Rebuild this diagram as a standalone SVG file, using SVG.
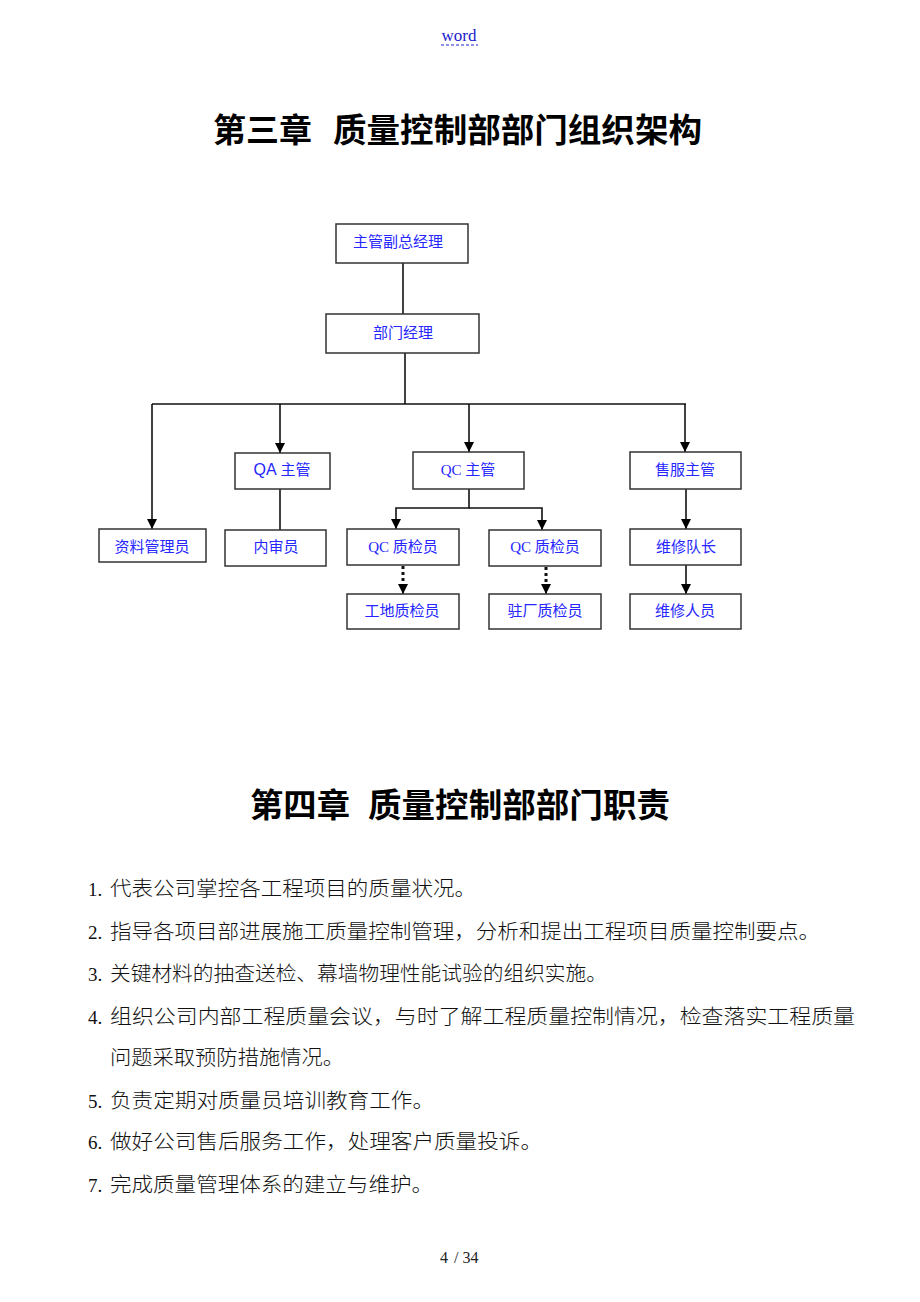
<svg xmlns="http://www.w3.org/2000/svg" width="920" height="1302" viewBox="0 0 920 1302">
<style>
.box{fill:#fff;stroke:#333;stroke-width:1.5}
.lbl{font-family:"Liberation Serif","Noto Sans CJK SC",serif;font-size:15px;fill:#2626ff;text-anchor:middle}
.sans{font-family:"Liberation Sans",sans-serif}
.ln{fill:none;stroke:#111;stroke-width:1.6}
.dot{fill:none;stroke:#111;stroke-width:3;stroke-dasharray:3 3}
.title{font-family:"Noto Sans CJK SC",sans-serif;font-size:33px;font-weight:bold;fill:#000}
.item{font-family:"Noto Sans CJK SC",sans-serif;font-size:20px;font-weight:300;fill:#111}
.num{font-family:"Liberation Serif",serif;font-size:19px;fill:#111}
</style>
<defs>
<marker id="ah" markerUnits="userSpaceOnUse" markerWidth="10" markerHeight="10" refX="10" refY="5" orient="auto" viewBox="0 0 10 10">
<path d="M0,0 L10,5 L0,10 z" fill="#000"/>
</marker>
</defs>
<rect width="920" height="1302" fill="#fff"/>

<g id="header">
<text x="459" y="41" font-family="Liberation Serif,serif" font-size="17" fill="#2020cc" text-anchor="middle">word</text>
<line x1="441" y1="45" x2="478" y2="45" stroke="#2020cc" stroke-width="1" stroke-dasharray="3 2"/>
</g>

<g id="title3">
<text class="title" x="213" y="142" textLength="99" lengthAdjust="spacingAndGlyphs">第三章</text>
<text class="title" x="333" y="142" textLength="369" lengthAdjust="spacingAndGlyphs">质量控制部部门组织架构</text>
</g>

<g id="connectors">
<line class="ln" x1="403" y1="263" x2="403" y2="314"/>
<line class="ln" x1="405" y1="353" x2="405" y2="404"/>
<line class="ln" x1="152" y1="404" x2="686" y2="404"/>
<line class="ln" x1="152" y1="404" x2="152" y2="529" marker-end="url(#ah)"/>
<line class="ln" x1="280" y1="404" x2="280" y2="453" marker-end="url(#ah)"/>
<line class="ln" x1="469" y1="404" x2="469" y2="452" marker-end="url(#ah)"/>
<line class="ln" x1="685" y1="404" x2="685" y2="452" marker-end="url(#ah)"/>
<line class="ln" x1="280" y1="489" x2="280" y2="530"/>
<polyline class="ln" points="469,489 469,508 396,508 396,529" marker-end="url(#ah)"/>
<polyline class="ln" points="469,508 542,508 542,530" marker-end="url(#ah)"/>
<line class="ln" x1="686" y1="489" x2="686" y2="529" marker-end="url(#ah)"/>
<line class="ln" x1="686" y1="565" x2="686" y2="594" marker-end="url(#ah)"/>
<line class="dot" x1="403" y1="566" x2="403" y2="586"/>
<line class="ln" x1="403" y1="584" x2="403" y2="594" marker-end="url(#ah)"/>
<line class="dot" x1="546" y1="567" x2="546" y2="586"/>
<line class="ln" x1="546" y1="584" x2="546" y2="594" marker-end="url(#ah)"/>
</g>

<g id="n-vp"><rect class="box" x="336" y="224" width="132" height="39"/><text class="lbl" x="398" y="247">主管副总经理</text></g>
<g id="n-mgr"><rect class="box" x="326" y="314" width="153" height="39"/><text class="lbl" x="403" y="338">部门经理</text></g>
<g id="n-qa"><rect class="box" x="235" y="453" width="95" height="36"/><text class="lbl" x="282" y="475"><tspan class="sans" font-size="16">QA</tspan> 主管</text></g>
<g id="n-qc"><rect class="box" x="413" y="452" width="111" height="37"/><text class="lbl" x="468" y="475">QC 主管</text></g>
<g id="n-svc"><rect class="box" x="630" y="452" width="111" height="37"/><text class="lbl" x="685" y="475">售服主管</text></g>
<g id="n-doc"><rect class="box" x="99" y="529" width="107" height="33"/><text class="lbl" x="152" y="552">资料管理员</text></g>
<g id="n-audit"><rect class="box" x="225" y="530" width="101" height="36"/><text class="lbl" x="276" y="552">内审员</text></g>
<g id="n-qci1"><rect class="box" x="347" y="529" width="112" height="36"/><text class="lbl" x="403" y="552">QC 质检员</text></g>
<g id="n-qci2"><rect class="box" x="489" y="530" width="112" height="36"/><text class="lbl" x="545" y="552">QC 质检员</text></g>
<g id="n-lead"><rect class="box" x="630" y="529" width="111" height="36"/><text class="lbl" x="686" y="552">维修队长</text></g>
<g id="n-site"><rect class="box" x="347" y="594" width="112" height="35"/><text class="lbl" x="402" y="616">工地质检员</text></g>
<g id="n-factory"><rect class="box" x="489" y="594" width="112" height="35"/><text class="lbl" x="545" y="616">驻厂质检员</text></g>
<g id="n-staff"><rect class="box" x="630" y="594" width="111" height="35"/><text class="lbl" x="685" y="616">维修人员</text></g>

<g id="title4">
<text class="title" x="250" y="817" textLength="100" lengthAdjust="spacingAndGlyphs">第四章</text>
<text class="title" x="368" y="817" textLength="302" lengthAdjust="spacingAndGlyphs">质量控制部部门职责</text>
</g>

<g id="list">
<text class="num" x="88" y="896">1.</text>
<text class="item" x="110" y="896" textLength="366" lengthAdjust="spacingAndGlyphs">代表公司掌控各工程项目的质量状况。</text>
<text class="num" x="88" y="939">2.</text>
<text class="item" x="110" y="939" textLength="710" lengthAdjust="spacingAndGlyphs">指导各项目部进展施工质量控制管理，分析和提出工程项目质量控制要点。</text>
<text class="num" x="88" y="981">3.</text>
<text class="item" x="110" y="981" textLength="497" lengthAdjust="spacingAndGlyphs">关键材料的抽查送检、幕墙物理性能试验的组织实施。</text>
<text class="num" x="88" y="1024">4.</text>
<text class="item" x="110" y="1024" textLength="745" lengthAdjust="spacingAndGlyphs">组织公司内部工程质量会议，与时了解工程质量控制情况，检查落实工程质量</text>
<text class="item" x="110" y="1065" textLength="234" lengthAdjust="spacingAndGlyphs">问题采取预防措施情况。</text>
<text class="num" x="88" y="1108">5.</text>
<text class="item" x="110" y="1108" textLength="324" lengthAdjust="spacingAndGlyphs">负责定期对质量员培训教育工作。</text>
<text class="num" x="88" y="1149">6.</text>
<text class="item" x="110" y="1149" textLength="432" lengthAdjust="spacingAndGlyphs">做好公司售后服务工作，处理客户质量投诉。</text>
<text class="num" x="88" y="1192">7.</text>
<text class="item" x="110" y="1192" textLength="323" lengthAdjust="spacingAndGlyphs">完成质量管理体系的建立与维护。</text>
</g>

<g id="footer" font-family="Liberation Serif,serif" font-size="16" fill="#222">
<text x="440" y="1263">4</text>
<text x="454" y="1263">/ 34</text>
</g>
</svg>
